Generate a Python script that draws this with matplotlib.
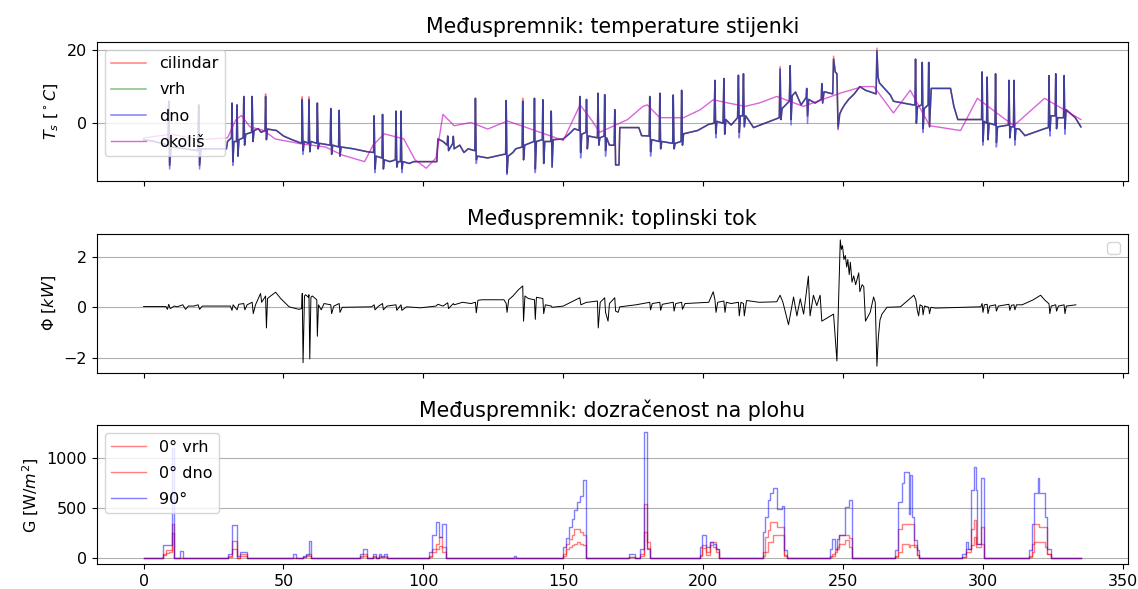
import numpy as np
import matplotlib.pyplot as plt

# --- temperature of the buffer tank walls, (hour, degC) ---
wall = [(0, -4.5), (4, -5), (8.7, -6), (9.0, 6), (9.3, -11.5), (9.8, -6.5), (15, -7),
        (19.4, -7.5), (19.7, 5), (20.0, -11.5), (20.5, -7), (29.6, -7),
        (30.0, -5), (31.4, -4), (31.6, 5.5), (31.9, -10.5), (32.3, -5), (33.2, -5), (33.4, 5),
        (33.7, -9), (34.1, -4.5), (35.6, -4), (35.8, 7.3), (36.1, -6), (36.5, -3), (38.6, -2.5),
        (38.8, 7.3), (39.1, -5), (39.5, -2), (41, -1.5), (42, -2.5), (43.4, -2), (43.6, 7.3),
        (43.9, -4.5), (44.3, -1.6), (47.5, -2),
        (50, -3.5), (53, -4.5), (56.5, -5.5), (56.7, 6.4), (57.0, -7.5), (57.4, -5), (58.9, -5.5),
        (59.1, 6.4), (59.4, -7.8), (59.8, -5), (61.9, -5.5), (62.1, 5.5), (62.4, -7), (62.8, -5.5),
        (66.7, -6), (66.9, 4), (67.2, -8.5), (67.6, -6), (69.7, -6.5), (69.9, 3.5), (70.2, -9),
        (70.6, -6.5), (75, -7), (80, -7.8),
        (82.2, -8), (82.4, 2), (82.7, -12.5), (83.1, -9), (85.2, -9.5), (85.4, 2.4), (85.7, -12.5),
        (86.1, -10), (88, -10.5), (90.0, -10), (90.2, 3.3), (90.5, -12), (90.9, -10.5),
        (91.8, -10.5), (92.0, 3.3), (92.3, -12.5), (92.7, -10.5), (95, -11), (96.5, -10.5),
        (104.8, -10.5),
        (105.2, -4.3), (107, -5), (108.5, -6), (108.7, -3.5), (109, -7.5), (110.5, -5.5),
        (110.7, -3.6), (111, -7), (113, -6), (114.5, -8), (116, -7), (118.4, -7.5), (118.6, 6.8),
        (118.9, -10), (119.3, -9), (123, -9.5), (128.8, -8.5),
        (129.4, -8.5), (129.6, 6.2), (129.9, -13.5), (130.3, -9), (132, -8), (133, -7),
        (135.3, -6.5), (135.5, 6), (135.8, -10), (136.2, -6), (139.5, -5), (139.7, 6.8),
        (140.0, -12.5), (140.4, -5), (142.5, -4.5), (142.7, 6.4), (143.0, -11), (143.4, -5),
        (145.5, -5), (145.7, 3.3), (146.0, -12), (146.4, -4.5), (150, -4.3),
        (152, -3), (154, -1.5), (155.7, -2), (155.9, 7.3), (156.2, -8), (156.6, -3), (158.1, -2.5),
        (158.3, 6.5), (158.6, -7), (159, -3.5), (162.2, -4), (162.4, 8.2), (162.7, -6),
        (163.1, -4), (164.6, -3.5), (164.8, 7.8), (165.1, -7.5), (165.5, -4), (166.5, -6),
        (168.2, -6), (168.4, 3.7), (168.7, -11.4), (169.9, -11.4), (170.2, -1.2),
        (177, -1.2), (178, -3.4), (180.7, -3.5), (180.9, 7.3), (181.2, -7.8), (181.6, -4.5),
        (184.3, -5), (184.5, 8.2), (184.8, -7), (185.2, -5), (189.1, -5.5), (189.3, 7.7),
        (189.6, -7), (190, -5.5), (192.1, -5), (192.3, 9), (192.6, -6), (193, -2.9), (198, -2),
        (202, -0.3),
        (203.9, 0), (204.2, 11.7), (204.5, -2.8), (204.9, 0.5), (207.1, 0), (207.4, 12.2),
        (207.7, -3), (208.1, 1), (210, -0.5), (212.3, 1.5), (212.6, 13.1), (212.9, -2.5),
        (213.3, 2), (214.1, 2), (214.4, 13.5), (214.7, -1), (215.2, 2), (216.5, 0.5), (218, -1.2),
        (227.2, 1.5),
        (227.5, 14.8), (227.8, 1), (228.2, 4), (230.8, 6), (231.1, 15.7), (231.4, 1), (231.8, 7.5),
        (233, 8.5), (235, 5), (236.8, 7), (237.0, 9.5), (237.3, 2), (237.7, 6.5), (240, 5.5),
        (242.2, 6.5), (242.4, 10.8), (242.7, 5.5), (243.2, 8.6), (246.3, 8), (246.6, 17.5),
        (247.2, 14), (247.8, 13.5), (248.2, -0.8), (248.8, 2.5), (249.5, 3.7), (250.5, 5),
        (252, 6.5), (254, 8), (256, 10), (258, 9), (261.8, 8), (262.1, 19.7), (262.5, 12.6),
        (263, 11), (266.9, 7.7), (268, 6), (275, 5),
        (275.7, 5), (275.9, 17.5), (276.2, 0), (276.6, 4.5), (278.1, 5), (278.3, 16.6),
        (278.6, -1.5), (279, 4), (280.4, 5), (280.6, 16.6), (280.9, -1), (281.5, 9.5),
        (288.4, 9.5), (289.6, 4.6), (291, 1), (298.5, 1),
        (299.5, 1), (299.7, 14), (300.0, -5), (300.4, 0.5), (301.3, 0), (301.5, 12.6),
        (301.8, -4.5), (302.2, 0), (304.3, -0.5), (304.5, 13.5), (304.8, -5.3), (305.2, -1),
        (309.1, -0.5), (309.3, 11.7), (309.6, -4), (310, -1), (310.9, -1), (311.1, 11.7),
        (311.4, -4.5), (311.8, -1.5), (313, -1.6), (315, -3.4), (322, -1.5), (323.4, -1.2),
        (323.6, 13), (323.9, -2), (324.3, 2), (325.8, 2), (326.0, 13.5), (326.3, -1.5),
        (326.7, 1.5), (328.8, 1.5), (329.0, 13), (329.3, -1.5), (329.7, 3.7), (331.5, 2.5),
        (333, 1.5), (335, -1)]

# where the bottom sensor dips further / the cylinder reads higher than the wall curve
dno_low = {9.3: -12.5, 20.0: -12.5, 31.9: -11.5, 57.0: -8.5, 82.7: -13.5, 92.3: -13.5,
           118.9: -11, 129.9: -14, 140.0: -13.5, 156.2: -9.5, 165.1: -9, 181.2: -9,
           204.5: -4, 212.9: -4, 231.4: -0.5, 237.3: 0, 248.2: -1.5, 278.6: -2.5,
           300.0: -6, 304.8: -6.5, 311.4: -6, 323.9: -3.5, 329.3: -3}
cil_high = {43.6: 8, 56.7: 7.2, 59.1: 7.2, 135.5: 6.8, 227.5: 15.5, 246.6: 18.3,
            262.1: 20.5, 248.2: -1.8}

okolis = [(0, -4), (10, -3), (20, -4.5), (30, -4), (33, 1), (35, 2.1), (38, -1), (43, -2),
          (47, -4.3), (56, -5.6), (65, -6.5), (71, -8.7), (79, -10.5), (82, -6), (86, -2.9),
          (93, -4.3), (97, -10), (101, -12.3), (104.5, -9.5), (107, 2.4), (111, -0.7),
          (117, 0.2), (123, -1.6), (130, 0.6), (135, -0.7), (150, -4.7), (156, 5), (160, 1),
          (163, -2.5), (173, 1), (178.5, 4.6), (180, 5), (184.5, 1.5), (193, 1.5), (199, 3.7),
          (203.6, 6.4), (209, 5.5), (215, 4.6), (220, 5.5), (226.3, 7.3), (235.8, 4.6),
          (249, 8.2), (257, 10), (261, 10), (268, 2.8), (274, 9), (281, -0.7), (292, -2),
          (298, 6.8), (311, -0.7), (322, 6.8), (335, 1)]

# --- heat flux, (hour, kW) ---
flux = [(0, 0.03), (8, 0.03), (8.5, -0.08), (9, 0.12), (9.5, -0.05), (11, 0.05), (12, 0.02),
        (14, 0.1), (15, -0.08), (16, 0.05), (18, 0.05), (19.5, 0.1), (20, -0.08), (21, 0.05),
        (31, 0.05), (31.6, -0.12), (32, 0.1), (33.4, -0.1), (34, 0.12), (35.8, 0.15),
        (36.2, -0.1), (37, 0.1), (38.8, 0.2), (39.2, -0.25), (40, 0.1), (41.8, 0.55),
        (42.2, 0.2), (43.6, 0.45), (43.9, -0.82), (44.3, 0.35), (45.4, 0.45), (47.2, 0.6),
        (49, 0.35), (52, 0.02), (55.5, -0.08), (56.5, -0.05), (56.7, 0.55), (57.0, -2.2),
        (57.5, 0.45), (57.9, 0.5), (58.9, 0.4), (59.1, 0.5), (59.4, -2.05), (59.8, 0.4),
        (60.3, 0.45), (61.9, 0.3), (62.1, -1.15), (62.5, 0.1), (63.5, -0.1), (64.5, 0.15),
        (66.9, 0.1), (67.2, -0.25), (68, 0.05), (69.9, 0.15), (70.2, -0.2), (71, 0.0),
        (81.5, 0.02), (82.4, 0.1), (82.7, -0.1), (84, 0.05), (85.4, 0.15), (85.7, -0.1),
        (87, 0.05), (90.2, 0.1), (90.5, -0.12), (92, 0.1), (92.3, -0.12), (94, 0.02),
        (99, -0.02), (104.5, 0.05), (105.2, 0.12), (107, 0.05), (108.7, 0.18), (109, -0.05),
        (110.7, 0.15), (111, 0.1), (114, 0.2), (117, 0.15), (118.6, 0.2), (118.9, -0.22),
        (119.5, 0.28), (121, 0.3), (128.8, 0.3), (129.6, 0.15), (129.9, -0.2), (130.5, 0.3),
        (132, 0.45), (134, 0.7), (135.5, 0.85), (135.8, -0.55), (136.3, 0.45), (137.5, 0.35),
        (139.7, 0.3), (140.0, -0.48), (140.4, 0.4), (142.7, 0.35), (143.0, -0.25),
        (143.6, 0.1), (145.7, 0.05), (146.0, 0.0), (150, 0.05), (155.9, 0.38), (156.3, 0.1),
        (158.3, 0.2), (158.6, 0.2), (162.2, 0.25), (162.5, -0.82), (163.2, 0.2), (164.8, 0.38),
        (165.1, -0.2), (166, -0.55), (166.5, 0.15), (168.4, 0.38), (168.7, -0.15),
        (169.6, -0.2), (170.2, 0.02), (176, 0.1), (180.9, 0.2), (181.2, -0.1), (181.8, 0.15),
        (184.5, 0.2), (184.8, -0.12), (185.4, 0.12), (189.3, 0.2), (189.6, -0.15),
        (190.2, 0.15), (192.3, 0.2), (192.6, -0.08), (193.5, 0.15), (202, 0.2), (203.6, 0.62),
        (204.2, 0.3), (204.6, -0.2), (205.2, 0.2), (207.4, 0.25), (207.8, -0.2), (208.3, 0.2),
        (210, 0.15), (212.6, 0.2), (212.9, -0.34), (213.5, 0.2), (214.4, 0.15), (214.7, -0.34),
        (215.5, 0.27), (220, 0.2), (226.3, 0.22), (227.5, 0.48), (228.5, 0.2), (230.5, -0.69),
        (232.3, 0.41), (233.5, -0.34), (234.7, 0.34), (235.9, -0.27), (237.6, 1.24),
        (238.2, -0.34), (239.4, 0.48), (240.6, 0.07), (241.8, 0.48), (242.4, -0.55),
        (246.6, -0.27), (247.8, -2.13), (249.0, 2.68), (249.4, 2.3), (249.8, 2.45),
        (250.3, 1.9), (250.8, 2.06), (251.3, 1.6), (251.7, 1.9), (252.2, 1.3), (252.6, 1.79),
        (253.2, 1.0), (253.8, 1.25), (254.5, 0.9), (255.6, 1.37), (256.0, 0.62), (256.8, 0.9),
        (257.4, 0.82), (258.0, -0.55), (259.7, -0.2), (260.9, 0.41), (261.5, 0.2),
        (262.1, -2.34), (262.6, -1.2), (263.2, -0.5), (263.9, -0.27), (265.7, 0.0),
        (270.5, 0.02), (275.3, 0.48), (276.0, 0.3), (276.5, -0.1), (277.0, -0.34),
        (277.5, 0.1), (278.3, 0.05), (278.6, -0.3), (279.1, 0.05), (280.6, 0.0),
        (280.9, -0.25), (281.4, 0.0), (283, -0.03), (299.2, 0.02), (299.7, 0.15),
        (300.0, -0.2), (300.5, 0.1), (301.5, 0.12), (301.8, -0.25), (302.4, 0.05),
        (304.5, 0.1), (304.8, -0.15), (305.5, 0.05), (309.3, 0.12), (309.6, -0.12),
        (310.2, 0.08), (311.1, 0.1), (311.4, -0.1), (312, 0.1), (314, 0.1), (318, 0.3),
        (320.6, 0.48), (322, 0.3), (323.6, 0.14), (323.9, -0.25), (324.4, 0.05), (326.0, 0.1),
        (326.3, -0.15), (327, 0.05), (329.0, 0.1), (329.3, -0.25), (329.8, 0.05), (333.2, 0.1)]

# --- irradiance on the surfaces, step values (hour, W/m2) ---
g_x = [0, 7, 8, 9, 10, 11, 13, 14,
       30, 31.5, 33.5, 34.5, 37,
       53.5, 54.5, 57, 58, 59, 60,
       77.5, 78.5, 80, 82, 83, 84, 85, 86, 87,
       102, 103, 104.5, 105.5, 106.5, 108,
       132.5, 133,
       150, 151, 152, 153, 154, 155, 156, 157, 158,
       173.5, 175.5, 177.5, 179, 180, 181,
       199, 199.5, 201, 202.5, 203.5, 204.5, 205.8,
       221.5, 222, 223, 224, 225, 226.5, 228, 229, 229.8,
       245.4, 246, 247.2, 247.8, 248.4, 250.8, 252, 253.3,
       268.7, 269.8, 271, 271.7, 273, 273.5, 274, 274.5, 275.5, 276.5, 277.3,
       292.6, 293.8, 294.5, 295.7, 296.8, 297.4, 298, 299.2, 300.3,
       316.5, 317.7, 318.3, 319.5, 320.2, 321.3, 322.3, 323, 324.2,
       335]
g_vrh = [0, 43, 83, 83, 343, 0, 0, 0,
         20, 170, 0, 40, 0,
         0, 0, 10, 30, 43, 0,
         20, 43, 0, 20, 0, 20, 10, 20, 0,
         20, 93, 143, 210, 110, 0,
         0, 0,
         40, 143, 190, 227, 293, 293, 260, 227, 0,
         10, 0, 43, 543, 160, 0,
         30, 127, 30, 160, 160, 93, 0,
         60, 210, 277, 360, 360, 310, 310, 30, 0,
         20, 40, 77, 110, 227, 227, 200, 0,
         20, 293, 343, 343, 343, 343, 343, 343, 110, 30, 0,
         10, 93, 93, 293, 377, 140, 140, 310, 0,
         20, 143, 343, 343, 310, 310, 310, 43, 0,
         0]
g_dno = [0, 30, 50, 60, 250, 0, 0, 0,
         10, 93, 0, 20, 0,
         0, 0, 5, 15, 20, 0,
         10, 20, 0, 10, 0, 10, 5, 10, 0,
         10, 60, 93, 120, 60, 0,
         0, 0,
         20, 90, 110, 127, 143, 160, 143, 127, 0,
         5, 0, 20, 260, 100, 0,
         20, 100, 60, 127, 110, 60, 0,
         20, 60, 160, 160, 227, 227, 227, 20, 0,
         10, 20, 60, 93, 143, 177, 110, 0,
         10, 60, 143, 143, 143, 110, 127, 127, 127, 30, 0,
         10, 60, 60, 127, 210, 110, 110, 143, 0,
         10, 60, 160, 160, 160, 160, 110, 43, 0,
         0]
g_90 = [0, 133, 133, 133, 1100, 0, 67, 0,
        43, 327, 20, 60, 0,
        43, 0, 20, 43, 170, 0,
        43, 93, 0, 37, 0, 37, 20, 37, 0,
        60, 227, 360, 210, 343, 0,
        20, 0,
        110, 200, 310, 393, 477, 560, 617, 777, 0,
        43, 0, 93, 1260, 93, 0,
        110, 227, 110, 160, 143, 93, 0,
        260, 410, 577, 643, 693, 493, 520, 77, 0,
        93, 193, 93, 193, 227, 510, 577, 0,
        77, 560, 743, 860, 860, 443, 827, 410, 177, 77, 0,
        43, 160, 93, 677, 910, 677, 143, 793, 0,
        77, 343, 643, 793, 643, 643, 410, 93, 0,
        0]

tx, t_wall = np.array(wall).T
t_cil = [cil_high.get(x, t) for x, t in zip(tx, t_wall)]
t_dno = [dno_low.get(x, t) for x, t in zip(tx, t_wall)]
ox, t_ok = np.array(okolis).T
fx, phi = np.array(flux).T

plt.rcParams['font.size'] = 11.5
plt.rcParams['axes.titlesize'] = 14.8
plt.rcParams['legend.labelspacing'] = 0.7
plt.rcParams['legend.handlelength'] = 2.2

fig, (ax1, ax2, ax3) = plt.subplots(3, 1, sharex=True, figsize=(11.38, 5.89), dpi=100)
fig.subplots_adjust(left=0.085, right=0.991, top=0.929, bottom=0.042, hspace=0.38)

# temperature
ax1.plot(tx, t_cil, 'r', lw=1.1, alpha=0.5, label='cilindar')
ax1.plot(tx, t_wall, 'g', lw=1.1, alpha=0.5, label='vrh')
ax1.plot(tx, t_dno, 'b', lw=1.1, alpha=0.5, label='dno')
ax1.plot(ox, t_ok, 'm', lw=1, alpha=0.6, label='okoliš')
ax1.set_title('Međuspremnik: temperature stijenki')
ax1.set_ylabel(r'$T_s$ [$^\circ C$]')
ax1.set_yticks([0, 20])
ax1.grid(axis='y')
ax1.legend(loc='upper left')

# heat flux
ax2.plot(fx, phi, 'k', lw=0.7)
ax2.set_title('Međuspremnik: toplinski tok')
ax2.set_ylabel(r'$\Phi$ [$kW$]')
ax2.set_yticks([-2, 0, 2])
ax2.grid(axis='y')
ax2.legend()

# irradiance
ax3.step(g_x, g_vrh, 'r', where='post', lw=1, alpha=0.5, label='0° vrh')
ax3.step(g_x, g_dno, 'r', where='post', lw=1, alpha=0.5, label='0° dno')
ax3.step(g_x, g_90, 'b', where='post', lw=1, alpha=0.5, label='90°')
ax3.set_title('Međuspremnik: dozračenost na plohu')
ax3.set_ylabel(r'G [W/$m^2$]')
ax3.set_yticks([0, 500, 1000])
ax3.set_xticks([0, 50, 100, 150, 200, 250, 300, 350])
ax3.grid(axis='y')
ax3.legend(loc='upper left')

plt.savefig('out.png')
